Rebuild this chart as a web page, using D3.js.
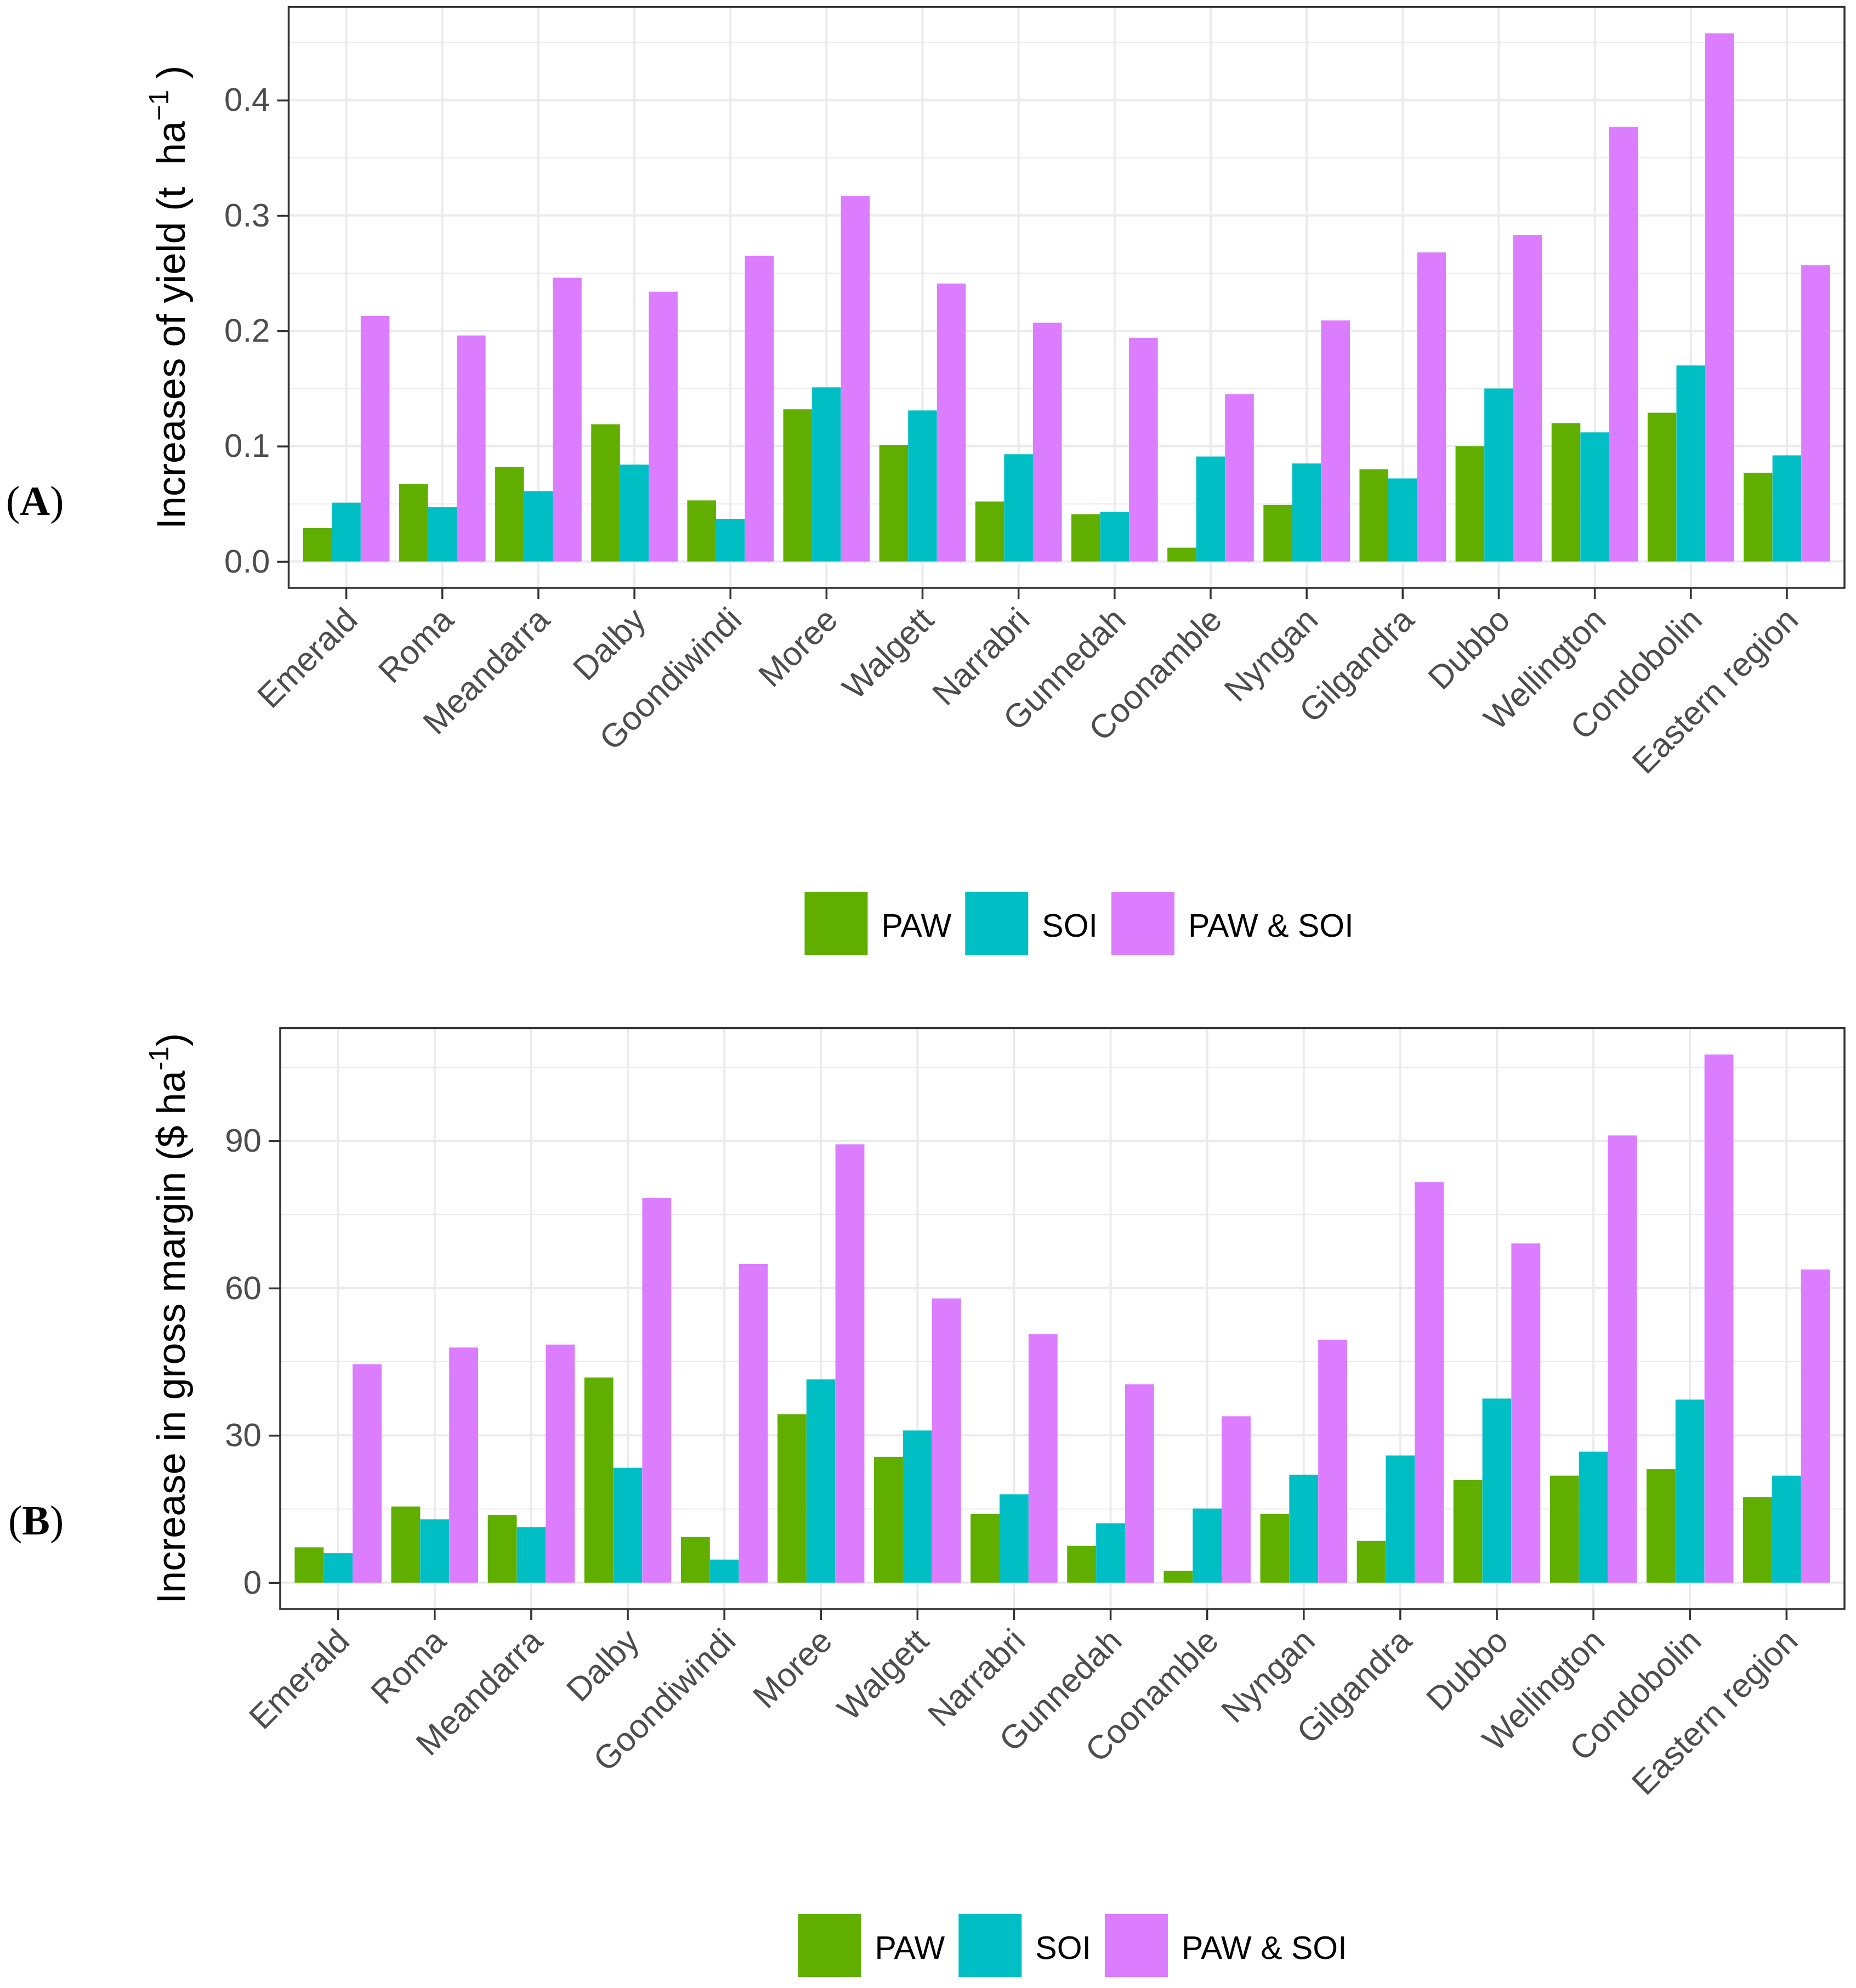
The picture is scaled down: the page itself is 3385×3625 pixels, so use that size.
<!DOCTYPE html>
<meta charset="utf-8">
<head>
  <title>Increases of yield and gross margin</title>
</head>
<style>
body { margin: 0; background: #fff; }
text { font-family: "Liberation Sans", Arial, sans-serif; }
.tick text { fill: #4d4d4d; }
</style>
<body>
  <svg id="chart" width="3385" height="3625"></svg>

  <script src="https://cdnjs.cloudflare.com/ajax/libs/d3/7.8.5/d3.min.js"></script>
  <script>
var width = 3385, height = 3625

// sites on the x axis
var categories = ["Emerald", "Roma", "Meandarra", "Dalby", "Goondiwindi", "Moree", "Walgett",
  "Narrabri", "Gunnedah", "Coonamble", "Nyngan", "Gilgandra", "Dubbo", "Wellington",
  "Condobolin", "Eastern region"]
var seriesNames = ["PAW", "SOI", "PAW & SOI"]
var seriesColors = ["#5fae00", "#00bfc4", "#dc7cff"]

// (A) increases of yield, t/ha
var yieldPAW  = [0.029, 0.067, 0.082, 0.119, 0.053, 0.132, 0.101, 0.052, 0.041, 0.012, 0.049, 0.080, 0.100, 0.120, 0.129, 0.077]
var yieldSOI  = [0.051, 0.047, 0.061, 0.084, 0.037, 0.151, 0.131, 0.093, 0.043, 0.091, 0.085, 0.072, 0.150, 0.112, 0.170, 0.092]
var yieldBoth = [0.213, 0.196, 0.246, 0.234, 0.265, 0.317, 0.241, 0.207, 0.194, 0.145, 0.209, 0.268, 0.283, 0.377, 0.458, 0.257]
var yieldTicks = [0.0, 0.1, 0.2, 0.3, 0.4]
var yieldMinor = [0.05, 0.15, 0.25, 0.35, 0.45]

// (B) increase in gross margin, $/ha
var gmPAW  = [7.2, 15.5, 13.8, 41.8, 9.3, 34.3, 25.6, 14.0, 7.5, 2.4, 14.0, 8.5, 20.9, 21.8, 23.1, 17.4]
var gmSOI  = [6.0, 12.9, 11.3, 23.4, 4.7, 41.4, 31.0, 18.0, 12.1, 15.1, 22.0, 25.9, 37.5, 26.7, 37.3, 21.8]
var gmBoth = [44.5, 47.9, 48.5, 78.4, 64.9, 89.3, 57.9, 50.6, 40.4, 33.9, 49.5, 81.6, 69.1, 91.1, 107.6, 63.8]
var gmTicks = [0, 30, 60, 90]
var gmMinor = [15, 45, 75, 105]

var svg = d3.select('#chart')
svg.append('rect').attr('width', width).attr('height', height).attr('fill', '#fff')

function drawPanel(p) {
  var g = svg.append('g')
  var all = p.series.flat()
  var pad = d3.max(all) * 0.05
  var y = d3.scaleLinear().domain([-pad, d3.max(all) + pad]).range([p.bottom, p.top])
  var x = d3.scaleBand().domain(categories).range([p.left, p.right])
    .paddingInner(0.1).paddingOuter(0.15)
  var xs = d3.scaleBand().domain(seriesNames).range([0, x.bandwidth()])
  var step = x.step()

  // grid
  g.selectAll('.minor').data(p.minor).enter().append('line')
    .attr('x1', p.left).attr('x2', p.right)
    .attr('y1', d => y(d)).attr('y2', d => y(d))
    .attr('stroke', '#ebebeb').attr('stroke-width', 2)
  g.selectAll('.major').data(p.ticks).enter().append('line')
    .attr('x1', p.left).attr('x2', p.right)
    .attr('y1', d => y(d)).attr('y2', d => y(d))
    .attr('stroke', '#ebebeb').attr('stroke-width', 4)
  g.selectAll('.vgrid').data(categories).enter().append('line')
    .attr('x1', d => x(d) + x.bandwidth() / 2).attr('x2', d => x(d) + x.bandwidth() / 2)
    .attr('y1', p.top).attr('y2', p.bottom)
    .attr('stroke', '#ebebeb').attr('stroke-width', 4)

  // bars
  p.series.forEach(function(vals, si) {
    g.append('g').selectAll('rect').data(vals).enter().append('rect')
      .attr('x', (d, i) => x(categories[i]) + xs(seriesNames[si]))
      .attr('width', xs.bandwidth())
      .attr('y', d => y(d))
      .attr('height', d => y(0) - y(d))
      .attr('fill', seriesColors[si])
  })

  g.append('rect')
    .attr('x', p.left).attr('y', p.top)
    .attr('width', p.right - p.left).attr('height', p.bottom - p.top)
    .attr('fill', 'none').attr('stroke', '#333').attr('stroke-width', 3.5)

  // axes
  var ya = g.append('g').attr('transform', 'translate(' + p.left + ',0)')
    .call(d3.axisLeft(y).tickValues(p.ticks).tickFormat(p.fmt).tickSize(21).tickPadding(13))
  ya.select('.domain').remove()
  ya.selectAll('.tick line').attr('stroke', '#333').attr('stroke-width', 3.5)
  ya.selectAll('.tick text').attr('font-size', 60)

  var xa = g.append('g').attr('transform', 'translate(0,' + p.bottom + ')')
    .call(d3.axisBottom(x).tickSize(20).tickSizeOuter(0))
  xa.select('.domain').remove()
  xa.selectAll('.tick line').attr('stroke', '#333').attr('stroke-width', 3.5)
  xa.selectAll('.tick text')
    .attr('font-size', 61)
    .attr('text-anchor', 'end')
    .attr('dy', null)
    .attr('y', null)
    .attr('transform', 'translate(24,62) rotate(-45)')

  // y title
  var t = g.append('text')
    .attr('transform', 'translate(' + p.titleX + ',' + ((p.top + p.bottom) / 2) + ') rotate(-90)')
    .attr('text-anchor', 'middle')
    .attr('font-size', 72)
    .attr('fill', '#000')
    .style('white-space', 'pre')
  t.append('tspan').text(p.title[0])
  t.append('tspan').attr('font-size', 50).attr('dy', -30).text(p.title[1])
  t.append('tspan').attr('dy', 30).text(p.title[2])

  // panel letter
  var lt = g.append('text')
    .attr('x', p.letterX).attr('y', p.letterY)
    .attr('font-size', 76)
    .style('font-family', '"Liberation Serif", "Times New Roman", serif')
  lt.append('tspan').text('(')
  lt.append('tspan').attr('font-weight', 'bold').text(p.letter)
  lt.append('tspan').text(')')

  // legend
  var lg = g.append('g')
  var keyW = 115, gap = 25
  var xpos = 0
  seriesNames.forEach(function(name, i) {
    lg.append('rect').attr('x', xpos).attr('y', 0).attr('width', keyW).attr('height', keyW)
      .attr('fill', seriesColors[i])
    var tx = lg.append('text').attr('x', xpos + keyW + gap).attr('y', 82)
      .attr('font-size', 59).attr('fill', '#000').text(name)
    xpos += keyW + gap + tx.node().getComputedTextLength() + gap
  })
  var total = xpos - gap
  lg.attr('transform', 'translate(' + (p.legendCx - total / 2) + ',' + p.legendTop + ')')
}

drawPanel({
  left: 526.5, right: 3364, top: 12.6, bottom: 1072,
  series: [yieldPAW, yieldSOI, yieldBoth],
  ticks: yieldTicks, minor: yieldMinor, fmt: d3.format('.1f'),
  title: ['Increases of yield (t  ha', '\u22121', ' )'], titleX: 337,
  letter: 'A', letterX: 11, letterY: 939,
  legendCx: 1968, legendTop: 1626
})

drawPanel({
  left: 511, right: 3364, top: 1874.6, bottom: 2934,
  series: [gmPAW, gmSOI, gmBoth],
  ticks: gmTicks, minor: gmMinor, fmt: d3.format('d'),
  title: ['Increase in gross margin ($ ha', '-1', ')'], titleX: 337,
  letter: 'B', letterX: 15, letterY: 2798,
  legendCx: 1956, legendTop: 3490
})
  </script>
</body>
</html>
